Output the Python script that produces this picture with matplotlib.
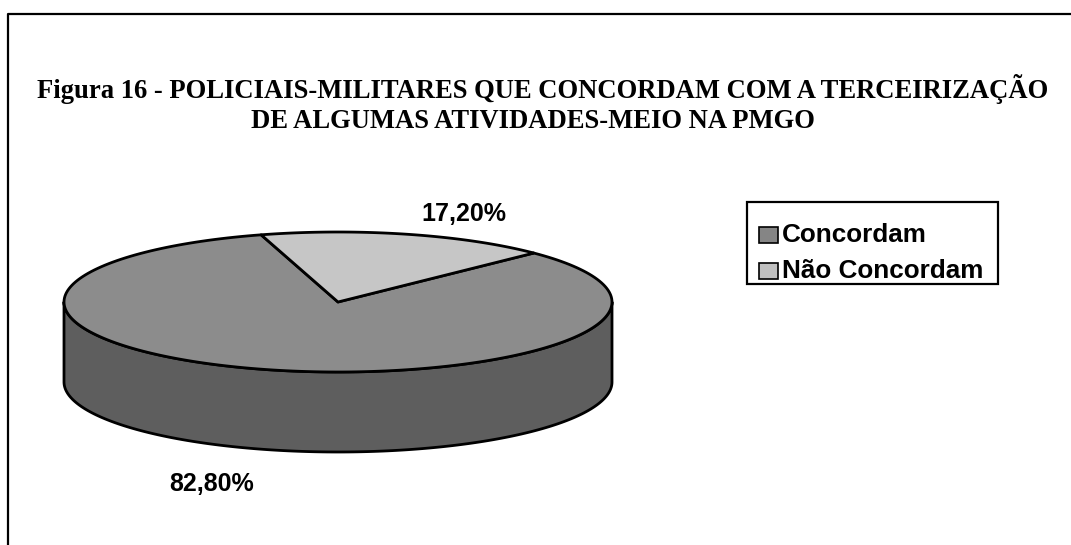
import numpy as np
import matplotlib
matplotlib.use("Agg")
import matplotlib.pyplot as plt
from matplotlib.patches import Polygon, Rectangle

# ---- data ----
categories = ["Concordam", "Não Concordam"]
values = [82.8, 17.2]
value_labels = ["82,80%", "17,20%"]
title_lines = ["Figura 16 - POLICIAIS-MILITARES QUE CONCORDAM COM A TERCEIRIZAÇÃO",
               "DE ALGUMAS ATIVIDADES-MEIO NA PMGO"]

# ---- style ----
top_colors = ["#8c8c8c", "#c6c6c6"]
side_colors = ["#5e5e5e", "#9a9a9a"]
legend_colors = ["#858585", "#c0c0c0"]

W, H = 1071, 545
fig = plt.figure(figsize=(W / 100, H / 100), dpi=100)
ax = fig.add_axes([0, 0, 1, 1])
ax.set_xlim(0, W)
ax.set_ylim(H, 0)
ax.axis("off")

# outer frame (only left & top visible in the crop)
ax.plot([8, 8, W + 5], [H + 5, 14, 14], color="black", lw=1.6, solid_capstyle="butt")

# title
ax.text(543, 89, title_lines[0], ha="center", va="center",
        fontfamily="Liberation Serif", fontweight="bold", fontsize=19.2)
ax.text(533, 121, title_lines[1], ha="center", va="center",
        fontfamily="Liberation Serif", fontweight="bold", fontsize=19.2)

# 3D pie geometry
cx, cy, a, b, depth = 338, 302, 274, 70, 80
start = 106.3
fracs = np.array(values) / np.sum(values)
bounds = start + 360 * np.concatenate([[0], np.cumsum(fracs)])

def rim(t1, t2, n=200, dy=0):
    t = np.radians(np.linspace(t1, t2, n))
    return np.column_stack([cx + a * np.cos(t), cy - b * np.sin(t) + dy])

# side walls (front half: 180..360 deg)
for i in range(len(values)):
    t1, t2 = bounds[i], bounds[i + 1]
    for k in range(-1, 3):
        lo = max(t1, 180 + 360 * k)
        hi = min(t2, 360 + 360 * k)
        if hi > lo:
            top = rim(lo, hi)
            bot = rim(hi, lo, dy=depth)
            ax.add_patch(Polygon(np.vstack([top, bot]), closed=True,
                                 facecolor=side_colors[i], edgecolor="black",
                                 lw=2.0, joinstyle="round"))

# top wedges
for i in range(len(values)):
    pts = np.vstack([[cx, cy], rim(bounds[i], bounds[i + 1]), [cx, cy]])
    ax.add_patch(Polygon(pts, closed=True, facecolor=top_colors[i],
                         edgecolor="black", lw=2.0, joinstyle="round"))

# value labels
ax.text(212, 484, value_labels[0], ha="center", va="center",
        fontfamily="Liberation Sans", fontweight="bold", fontsize=18)
ax.text(464, 214, value_labels[1], ha="center", va="center",
        fontfamily="Liberation Sans", fontweight="bold", fontsize=18)

# legend
ax.add_patch(Rectangle((747, 202), 251, 82, facecolor="white",
                       edgecolor="black", lw=1.6))
for i, (cat, y) in enumerate(zip(categories, [235, 271])):
    ax.add_patch(Rectangle((759, y - 8), 19, 16, facecolor=legend_colors[i],
                           edgecolor="black", lw=1.2))
    ax.text(782, y, cat, ha="left", va="center",
            fontfamily="Liberation Sans", fontweight="bold", fontsize=18.8)

fig.savefig("out.png", dpi=100)
